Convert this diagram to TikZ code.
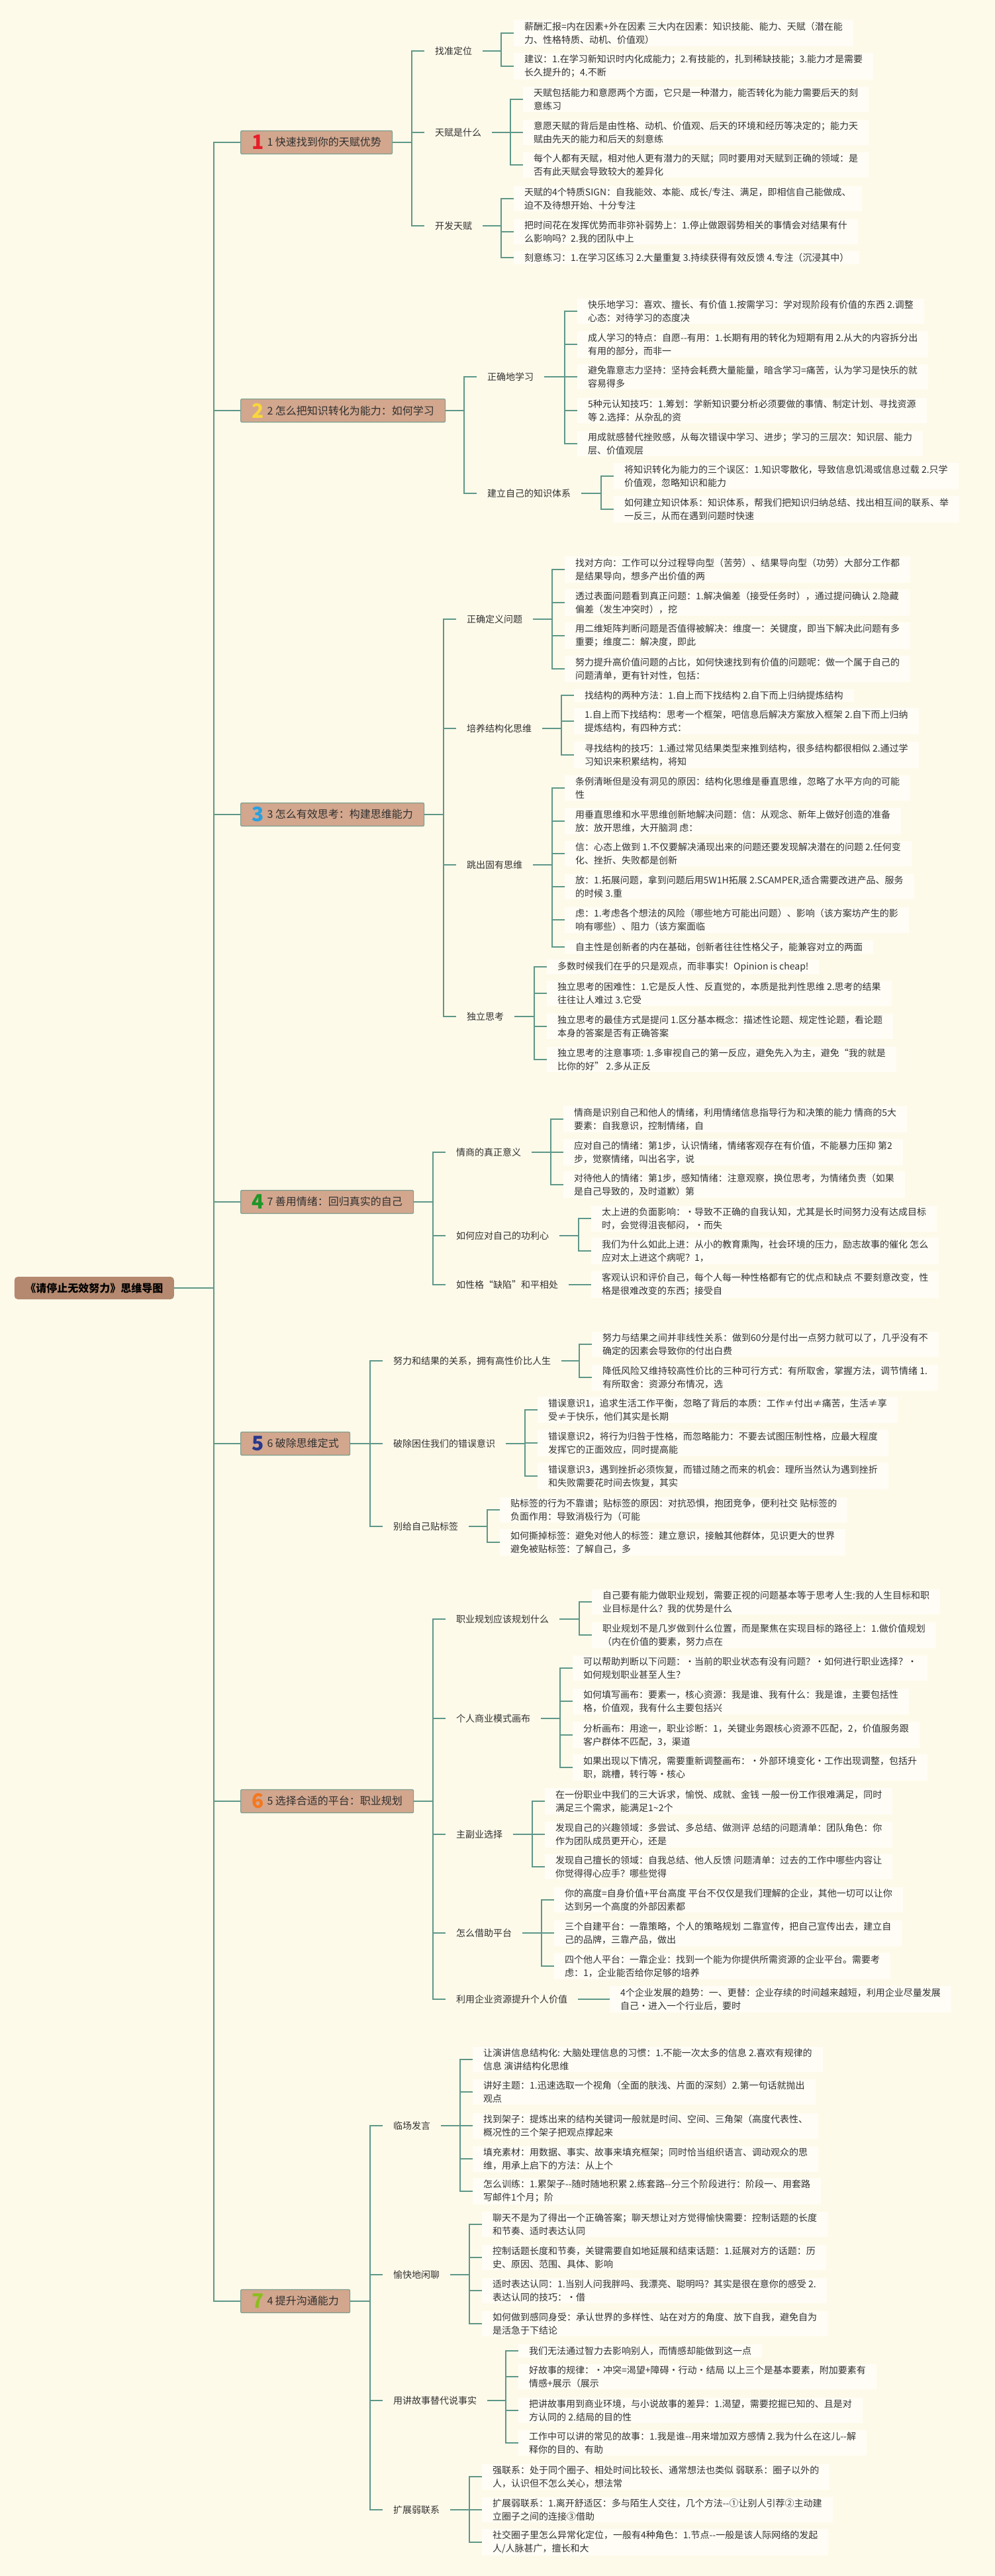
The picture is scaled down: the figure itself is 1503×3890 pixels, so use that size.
\documentclass[tikz,border=0pt]{standalone}
\usepackage{fontspec}
\newfontfamily\cjk{Noto Sans CJK SC}
\usepackage{xcolor}
\usepackage{tikz}

\definecolor{bgcream}{RGB}{254,250,234}
\definecolor{connteal}{RGB}{94,151,136}
\definecolor{boxpeach}{RGB}{210,167,142}
\definecolor{boxline}{RGB}{122,158,140}
\definecolor{rootbrown}{RGB}{180,137,112}
\definecolor{leafbg}{RGB}{255,253,245}
\definecolor{inkgray}{RGB}{48,48,48}
\definecolor{numred}{RGB}{230,30,40}
\definecolor{numyellow}{RGB}{250,214,60}
\definecolor{numblue}{RGB}{40,160,225}
\definecolor{numgreen}{RGB}{30,150,40}
\definecolor{numnavy}{RGB}{40,55,140}
\definecolor{numorange}{RGB}{245,120,30}
\definecolor{numlime}{RGB}{140,190,30}

\newcommand{\topicnum}[2]{\raisebox{-5pt}{\color{#1}\fontsize{30}{30}\selectfont\bfseries #2}\hspace{5pt}}
\newcommand{\tieleaf}[5]{%
	\node[leaftopic] (#1) at (#2,#3) {#5};
	\draw[conn] (#1.west) -- ++(-19,0) |- (#4.east);
}

\begin{document}
\begin{tikzpicture}[x=1pt,y=-1pt,
		conn/.style={draw=connteal,line width=2pt},
		roottopic/.style={anchor=east,fill=rootbrown,rounded corners=5pt,inner xsep=16.5pt,minimum height=34pt,text=black,font=\cjk\bfseries\fontsize{16}{20}\selectfont},
		maintopic/.style={anchor=west,fill=boxpeach,draw=boxline,line width=1.2pt,rounded corners=2pt,minimum height=35pt,inner xsep=4pt,text=inkgray,font=\cjk\fontsize{16}{20}\selectfont},
		subtopic/.style={anchor=west,inner xsep=16pt,inner ysep=4pt,text=inkgray,font=\cjk\fontsize{14}{19.7}\selectfont},
		leaftopic/.style={anchor=west,align=left,fill=leafbg,inner xsep=16pt,inner ysep=3pt,text=inkgray,font=\cjk\fontsize{14}{19.7}\selectfont}]
	
	\fill[bgcream] (0,0) rectangle (1503,3890);
	\useasboundingbox (0,0) rectangle (1503,3890);
	
	\node[roottopic] (root) at (263,1945) {《请停止无效努力》思维导图};
	
	\node[maintopic, minimum width=229pt] (m1) at (363,215) {\topicnum{numred}{1}1 快速找到你的天赋优势};
	\node[maintopic, minimum width=309pt] (m2) at (363,620) {\topicnum{numyellow}{2}2 怎么把知识转化为能力：如何学习};
	\node[maintopic, minimum width=277pt] (m3) at (363,1230) {\topicnum{numblue}{3}3 怎么有效思考：构建思维能力};
	\node[maintopic, minimum width=261pt] (m4) at (363,1815) {\topicnum{numgreen}{4}7 善用情绪：回归真实的自己};
	\node[maintopic, minimum width=165pt] (m5) at (363,2180) {\topicnum{numnavy}{5}6 破除思维定式};
	\node[maintopic, minimum width=261pt] (m6) at (363,2720) {\topicnum{numorange}{6}5 选择合适的平台：职业规划};
	\node[maintopic, minimum width=165pt] (m7) at (363,3475) {\topicnum{numlime}{7}4 提升沟通能力};
	
	\foreach \m in {m1,m2,m3,m4,m5,m6,m7}{
		\draw[conn] (\m.west) -- ++(-40,0) |- (root.east);
	}
	
	\node[subtopic] (s11) at (641,77) {找准定位};
	\node[subtopic] (s12) at (641,200) {天赋是什么};
	\node[subtopic] (s13) at (641,341) {开发天赋};
	\foreach \s in {s11,s12,s13}{
		\draw[conn] (\s.west) -- ++(-19,0) |- (m1.east);
	}
	\tieleaf{l11a}{776}{50}{s11}{薪酬汇报=内在因素+外在因素 三大内在因素：知识技能、能力、天赋（潜在能\\力、性格特质、动机、价值观）}
	\tieleaf{l11b}{776}{100}{s11}{建议：1.在学习新知识时内化成能力；2.有技能的，扎到稀缺技能；3.能力才是需要\\长久提升的；4.不断}
	\tieleaf{l12a}{790}{150}{s12}{天赋包括能力和意愿两个方面，它只是一种潜力，能否转化为能力需要后天的刻\\意练习}
	\tieleaf{l12b}{790}{200}{s12}{意愿天赋的背后是由性格、动机、价值观、后天的环境和经历等决定的；能力天\\赋由先天的能力和后天的刻意练}
	\tieleaf{l12c}{790}{249}{s12}{每个人都有天赋，相对他人更有潜力的天赋；同时要用对天赋到正确的领域：是\\否有此天赋会导致较大的差异化}
	\tieleaf{l13a}{776}{300}{s13}{天赋的4个特质SIGN：自我能效、本能、成长/专注、满足，即相信自己能做成、\\迫不及待想开始、十分专注}
	\tieleaf{l13b}{776}{350}{s13}{把时间花在发挥优势而非弥补弱势上：1.停止做跟弱势相关的事情会对结果有什\\么影响吗？2.我的团队中上}
	\tieleaf{l13c}{776}{389}{s13}{刻意练习：1.在学习区练习 2.大量重复 3.持续获得有效反馈 4.专注（沉浸其中）}
	
	\node[subtopic] (s21) at (720,569) {正确地学习};
	\node[subtopic] (s22) at (720,745) {建立自己的知识体系};
	\foreach \s in {s21,s22}{
		\draw[conn] (\s.west) -- ++(-19,0) |- (m2.east);
	}
	\tieleaf{l21a}{872}{470}{s21}{快乐地学习：喜欢、擅长、有价值 1.按需学习：学对现阶段有价值的东西 2.调整\\心态：对待学习的态度决}
	\tieleaf{l21b}{872}{520}{s21}{成人学习的特点：自愿-{}-有用：1.长期有用的转化为短期有用 2.从大的内容拆分出\\有用的部分，而非一}
	\tieleaf{l21c}{872}{569}{s21}{避免靠意志力坚持：坚持会耗费大量能量，暗含学习=痛苦，认为学习是快乐的就\\容易得多}
	\tieleaf{l21d}{872}{620}{s21}{5种元认知技巧：1.筹划：学新知识要分析必须要做的事情、制定计划、寻找资源\\等 2.选择：从杂乱的资}
	\tieleaf{l21e}{872}{670}{s21}{用成就感替代挫败感，从每次错误中学习、进步；学习的三层次：知识层、能力\\层、价值观层}
	\tieleaf{l22a}{927}{719}{s22}{将知识转化为能力的三个误区：1.知识零散化，导致信息饥渴或信息过载 2.只学\\价值观，忽略知识和能力}
	\tieleaf{l22b}{927}{769}{s22}{如何建立知识体系：知识体系，帮我们把知识归纳总结、找出相互间的联系、举\\一反三，从而在遇到问题时快速}
	
	\node[subtopic] (s31) at (689,935) {正确定义问题};
	\node[subtopic] (s32) at (689,1100) {培养结构化思维};
	\node[subtopic] (s33) at (689,1306) {跳出固有思维};
	\node[subtopic] (s34) at (689,1535) {独立思考};
	\foreach \s in {s31,s32,s33,s34}{
		\draw[conn] (\s.west) -- ++(-19,0) |- (m3.east);
	}
	\tieleaf{l31a}{853}{860}{s31}{找对方向：工作可以分过程导向型（苦劳）、结果导向型（功劳）大部分工作都\\是结果导向，想多产出价值的两}
	\tieleaf{l31b}{853}{910}{s31}{透过表面问题看到真正问题：1.解决偏差（接受任务时），通过提问确认 2.隐藏\\偏差（发生冲突时），挖}
	\tieleaf{l31c}{853}{960}{s31}{用二维矩阵判断问题是否值得被解决：维度一：关键度，即当下解决此问题有多\\重要；维度二：解决度，即此}
	\tieleaf{l31d}{853}{1010}{s31}{努力提升高价值问题的占比，如何快速找到有价值的问题呢：做一个属于自己的\\问题清单，更有针对性，包括：}
	\tieleaf{l32a}{867}{1050}{s32}{找结构的两种方法：1.自上而下找结构 2.自下而上归纳提炼结构}
	\tieleaf{l32b}{867}{1089}{s32}{1.自上而下找结构：思考一个框架，吧信息后解决方案放入框架 2.自下而上归纳\\提炼结构，有四种方式：}
	\tieleaf{l32c}{867}{1140}{s32}{寻找结构的技巧：1.通过常见结果类型来推到结构，很多结构都很相似 2.通过学\\习知识来积累结构，将知}
	\tieleaf{l33a}{853}{1190}{s33}{条例清晰但是没有洞见的原因：结构化思维是垂直思维，忽略了水平方向的可能\\性}
	\tieleaf{l33b}{853}{1240}{s33}{用垂直思维和水平思维创新地解决问题：信：从观念、新年上做好创造的准备\\放：放开思维，大开脑洞 虑：}
	\tieleaf{l33c}{853}{1289}{s33}{信：心态上做到 1.不仅要解决涌现出来的问题还要发现解决潜在的问题 2.任何变\\化、挫折、失败都是创新}
	\tieleaf{l33d}{853}{1339}{s33}{放：1.拓展问题，拿到问题后用5W1H拓展 2.SCAMPER,适合需要改进产品、服务\\的时候 3.重}
	\tieleaf{l33e}{853}{1389}{s33}{虑：1.考虑各个想法的风险（哪些地方可能出问题）、影响（该方案坊产生的影\\响有哪些）、阻力（该方案面临}
	\tieleaf{l33f}{853}{1430}{s33}{自主性是创新者的内在基础，创新者往往性格父子，能兼容对立的两面}
	\tieleaf{l34a}{826}{1460}{s34}{多数时候我们在乎的只是观点，而非事实！Opinion is cheap!}
	\tieleaf{l34b}{826}{1500}{s34}{独立思考的困难性：1.它是反人性、反直觉的，本质是批判性思维 2.思考的结果\\往往让人难过 3.它受}
	\tieleaf{l34c}{826}{1550}{s34}{独立思考的最佳方式是提问 1.区分基本概念：描述性论题、规定性论题，看论题\\本身的答案是否有正确答案}
	\tieleaf{l34d}{826}{1600}{s34}{独立思考的注意事项: 1.多审视自己的第一反应，避免先入为主，避免“我的就是\\比你的好” 2.多从正反}
	
	\node[subtopic] (s41) at (673,1740) {情商的真正意义};
	\node[subtopic] (s42) at (673,1866) {如何应对自己的功利心};
	\node[subtopic] (s43) at (673,1940) {如性格“缺陷”和平相处};
	\foreach \s in {s41,s42,s43}{
		\draw[conn] (\s.west) -- ++(-19,0) |- (m4.east);
	}
	\tieleaf{l41a}{851}{1690}{s41}{情商是识别自己和他人的情绪，利用情绪信息指导行为和决策的能力 情商的5大\\要素：自我意识，控制情绪，自}
	\tieleaf{l41b}{851}{1740}{s41}{应对自己的情绪：第1步，认识情绪，情绪客观存在有价值，不能暴力压抑 第2\\步，觉察情绪，叫出名字，说}
	\tieleaf{l41c}{851}{1789}{s41}{对待他人的情绪：第1步，感知情绪：注意观察，换位思考，为情绪负责（如果\\是自己导致的，及时道歉）第}
	\tieleaf{l42a}{893}{1840}{s42}{太上进的负面影响：·导致不正确的自我认知，尤其是长时间努力没有达成目标\\时，会觉得沮丧郁闷，·而失}
	\tieleaf{l42b}{893}{1889}{s42}{我们为什么如此上进：从小的教育熏陶，社会环境的压力，励志故事的催化 怎么\\应对太上进这个病呢？1，}
	\tieleaf{l43a}{893}{1940}{s43}{客观认识和评价自己，每个人每一种性格都有它的优点和缺点 不要刻意改变，性\\格是很难改变的东西；接受自}
	
	\node[subtopic] (s51) at (578,2055) {努力和结果的关系，拥有高性价比人生};
	\node[subtopic] (s52) at (578,2180) {破除困住我们的错误意识};
	\node[subtopic] (s53) at (578,2305) {别给自己贴标签};
	\foreach \s in {s51,s52,s53}{
		\draw[conn] (\s.west) -- ++(-19,0) |- (m5.east);
	}
	\tieleaf{l51a}{894}{2030}{s51}{努力与结果之间并非线性关系：做到60分是付出一点努力就可以了，几乎没有不\\确定的因素会导致你的付出白费}
	\tieleaf{l51b}{894}{2080}{s51}{降低风险又维持较高性价比的三种可行方式：有所取舍，掌握方法，调节情绪 1.\\有所取舍：资源分布情况，选}
	\tieleaf{l52a}{812}{2129}{s52}{错误意识1，追求生活工作平衡，忽略了背后的本质：工作≠付出≠痛苦，生活≠享\\受≠于快乐，他们其实是长期}
	\tieleaf{l52b}{812}{2179}{s52}{错误意识2，将行为归咎于性格，而忽略能力：不要去试图压制性格，应最大程度\\发挥它的正面效应，同时提高能}
	\tieleaf{l52c}{812}{2229}{s52}{错误意识3，遇到挫折必须恢复，而错过随之而来的机会：理所当然认为遇到挫折\\和失败需要花时间去恢复，其实}
	\tieleaf{l53a}{755}{2280}{s53}{贴标签的行为不靠谱；贴标签的原因：对抗恐惧，抱团竞争，便利社交 贴标签的\\负面作用：导致消极行为（可能}
	\tieleaf{l53b}{755}{2329}{s53}{如何撕掉标签：避免对他人的标签：建立意识，接触其他群体，见识更大的世界\\避免被贴标签：了解自己，多}
	
	\node[subtopic] (s61) at (673,2445) {职业规划应该规划什么};
	\node[subtopic] (s62) at (673,2595) {个人商业模式画布};
	\node[subtopic] (s63) at (673,2770) {主副业选择};
	\node[subtopic] (s64) at (673,2919) {怎么借助平台};
	\node[subtopic] (s65) at (673,3019) {利用企业资源提升个人价值};
	\foreach \s in {s61,s62,s63,s64,s65}{
		\draw[conn] (\s.west) -- ++(-19,0) |- (m6.east);
	}
	\tieleaf{l61a}{894}{2419}{s61}{自己要有能力做职业规划，需要正视的问题基本等于思考人生:我的人生目标和职\\业目标是什么？我的优势是什么}
	\tieleaf{l61b}{894}{2469}{s61}{职业规划不是几岁做到什么位置，而是聚焦在实现目标的路径上：1.做价值规划\\（内在价值的要素，努力点在}
	\tieleaf{l62a}{865}{2519}{s62}{可以帮助判断以下问题：·当前的职业状态有没有问题？·如何进行职业选择？·\\如何规划职业甚至人生？}
	\tieleaf{l62b}{865}{2569}{s62}{如何填写画布：要素一，核心资源：我是谁、我有什么：我是谁，主要包括性\\格，价值观，我有什么主要包括兴}
	\tieleaf{l62c}{865}{2620}{s62}{分析画布：用途一，职业诊断：1，关键业务跟核心资源不匹配，2，价值服务跟\\客户群体不匹配，3，渠道}
	\tieleaf{l62d}{865}{2669}{s62}{如果出现以下情况，需要重新调整画布：·外部环境变化·工作出现调整，包括升\\职，跳槽，转行等·核心}
	\tieleaf{l63a}{823}{2720}{s63}{在一份职业中我们的三大诉求，愉悦、成就、金钱 一般一份工作很难满足，同时\\满足三个需求，能满足1\textasciitilde 2个}
	\tieleaf{l63b}{823}{2770}{s63}{发现自己的兴趣领域：多尝试、多总结、做测评 总结的问题清单：团队角色：你\\作为团队成员更开心，还是}
	\tieleaf{l63c}{823}{2819}{s63}{发现自己擅长的领域：自我总结、他人反馈 问题清单：过去的工作中哪些内容让\\你觉得得心应手？哪些觉得}
	\tieleaf{l64a}{837}{2869}{s64}{你的高度=自身价值+平台高度 平台不仅仅是我们理解的企业，其他一切可以让你\\达到另一个高度的外部因素都}
	\tieleaf{l64b}{837}{2919}{s64}{三个自建平台：一靠策略，个人的策略规划 二靠宣传，把自己宣传出去，建立自\\己的品牌，三靠产品，做出}
	\tieleaf{l64c}{837}{2969}{s64}{四个他人平台：一靠企业：找到一个能为你提供所需资源的企业平台。需要考\\虑：1，企业能否给你足够的培养}
	\tieleaf{l65a}{921}{3019}{s65}{4个企业发展的趋势：一、更替：企业存续的时间越来越短，利用企业尽量发展\\自己·进入一个行业后，要时}
	
	\node[subtopic] (s71) at (578,3210) {临场发言};
	\node[subtopic] (s72) at (578,3435) {愉快地闲聊};
	\node[subtopic] (s73) at (578,3625) {用讲故事替代说事实};
	\node[subtopic] (s74) at (578,3790) {扩展弱联系};
	\foreach \s in {s71,s72,s73,s74}{
		\draw[conn] (\s.west) -- ++(-19,0) |- (m7.east);
	}
	\tieleaf{l71a}{714}{3110}{s71}{让演讲信息结构化: 大脑处理信息的习惯：1.不能一次太多的信息 2.喜欢有规律的\\信息 演讲结构化思维}
	\tieleaf{l71b}{714}{3159}{s71}{讲好主题：1.迅速选取一个视角（全面的肤浅、片面的深刻）2.第一句话就抛出\\观点}
	\tieleaf{l71c}{714}{3210}{s71}{找到架子：提炼出来的结构关键词一般就是时间、空间、三角架（高度代表性、\\概况性的三个架子把观点撑起来}
	\tieleaf{l71d}{714}{3260}{s71}{填充素材：用数据、事实、故事来填充框架；同时恰当组织语言、调动观众的思\\维，用承上启下的方法：从上个}
	\tieleaf{l71e}{714}{3309}{s71}{怎么训练：1.累架子-{}-随时随地积累 2.练套路-{}-分三个阶段进行：阶段一、用套路\\写邮件1个月；阶}
	\tieleaf{l72a}{728}{3359}{s72}{聊天不是为了得出一个正确答案；聊天想让对方觉得愉快需要：控制话题的长度\\和节奏、适时表达认同}
	\tieleaf{l72b}{728}{3409}{s72}{控制话题长度和节奏，关键需要自如地延展和结束话题：1.延展对方的话题：历\\史、原因、范围、具体、影响}
	\tieleaf{l72c}{728}{3459}{s72}{适时表达认同：1.当别人问我胖吗、我漂亮、聪明吗？其实是很在意你的感受 2.\\表达认同的技巧：·借}
	\tieleaf{l72d}{728}{3509}{s72}{如何做到感同身受：承认世界的多样性、站在对方的角度、放下自我，避免自为\\是活急于下结论}
	\tieleaf{l73a}{783}{3550}{s73}{我们无法通过智力去影响别人，而情感却能做到这一点}
	\tieleaf{l73b}{783}{3589}{s73}{好故事的规律：·冲突=渴望+障碍·行动·结局 以上三个是基本要素，附加要素有\\情感+展示（展示}
	\tieleaf{l73c}{783}{3640}{s73}{把讲故事用到商业环境，与小说故事的差异：1.渴望，需要挖掘已知的、且是对\\方认同的 2.结局的目的性}
	\tieleaf{l73d}{783}{3689}{s73}{工作中可以讲的常见的故事：1.我是谁-{}-用来增加双方感情 2.我为什么在这儿-{}-解\\释你的目的、有助}
	\tieleaf{l74a}{728}{3740}{s74}{强联系：处于同个圈子、相处时间比较长、通常想法也类似 弱联系：圈子以外的\\人，认识但不怎么关心，想法常}
	\tieleaf{l74b}{728}{3790}{s74}{扩展弱联系：1.离开舒适区：多与陌生人交往，几个方法-{}-①让别人引荐②主动建\\立圈子之间的连接③借助}
	\tieleaf{l74c}{728}{3839}{s74}{社交圈子里怎么异常化定位，一般有4种角色：1.节点-{}-一般是该人际网络的发起\\人/人脉甚广，擅长和大}
\end{tikzpicture}
\end{document}
